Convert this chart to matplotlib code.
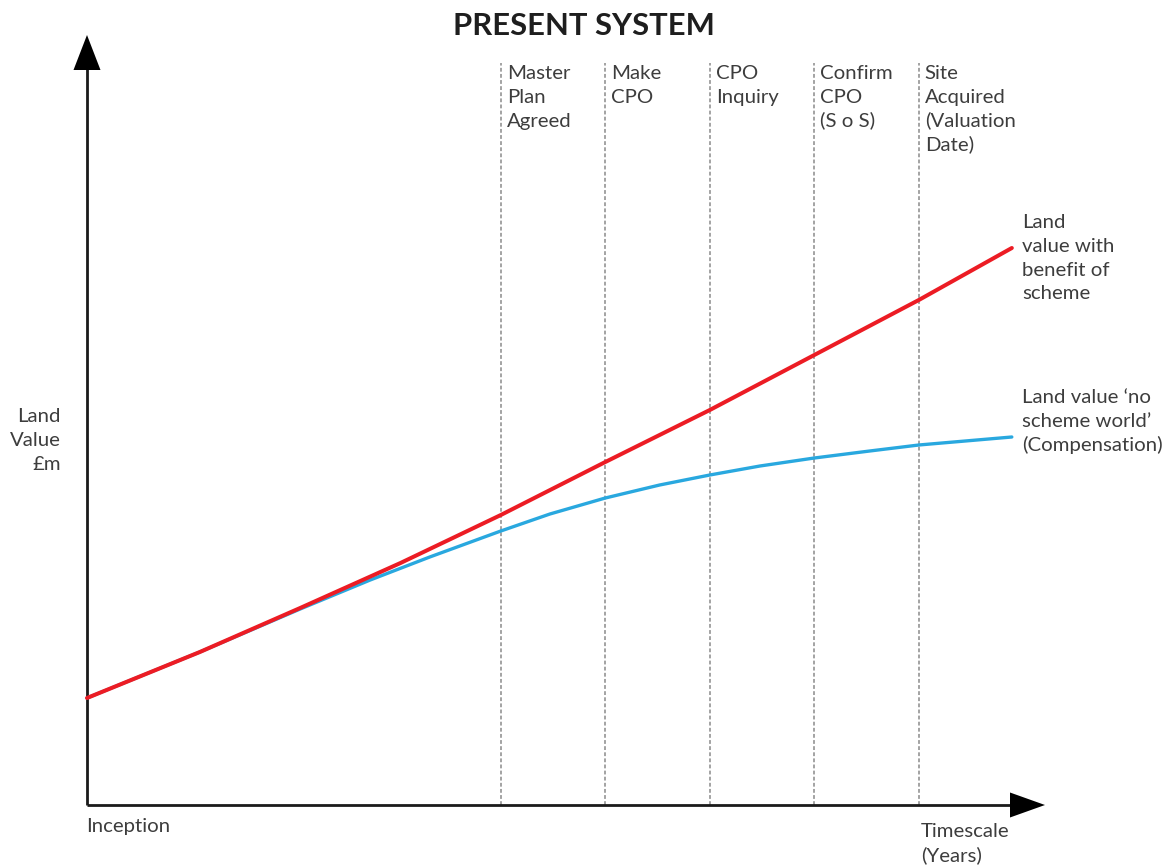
import matplotlib
matplotlib.use("Agg")
import matplotlib.pyplot as plt
from matplotlib.patches import Polygon

plt.rcParams['font.family'] = ['Lato', 'DejaVu Sans']

W, H, DPI = 1176, 868, 100

# Timeline positions (years from inception, arbitrary scale)
milestone_x = [3.96, 4.96, 5.96, 6.96, 7.96]
milestone_labels = [
    ["Master", "Plan", "Agreed"],
    ["Make", "CPO"],
    ["CPO", "Inquiry"],
    ["Confirm", "CPO", "(S o S)"],
    ["Site", "Acquired", "(Valuation", "Date)"],
]

# Land value with benefit of scheme
scheme_x = [0.0, 1.08, 2.04, 3.00, 3.96, 4.96, 5.96, 6.96, 7.96, 8.85]
scheme_y = [1.07, 1.53, 1.97, 2.42, 2.90, 3.43, 3.95, 4.50, 5.05, 5.57]

# Land value in the 'no scheme world'
noscheme_x = [0.0, 1.08, 2.04, 2.71, 3.28, 3.96, 4.43, 4.96, 5.48, 5.96,
              6.44, 6.96, 7.49, 7.96, 8.85]
noscheme_y = [1.07, 1.53, 1.96, 2.25, 2.48, 2.74, 2.91, 3.07, 3.20, 3.30,
              3.39, 3.47, 3.54, 3.60, 3.68]

scheme_label = ["Land", "value with", "benefit of", "scheme"]
noscheme_label = ["Land value \u2018no", "scheme world\u2019", "(Compensation)"]
y_label = ["Land", "Value", "\u00a3m"]
x_label = ["Timescale", "(Years)"]

TEXT = "#3d3d3d"
RED = "#ec1c24"
BLUE = "#29a8df"

fig = plt.figure(figsize=(W / DPI, H / DPI), dpi=DPI)
ax = fig.add_axes([0, 0, 1, 1])
ax.set_axis_off()

# origin of the chart sits at pixel (87, 805); 104.5 px per year, 100 px per £m unit
x0px, y0px, sx, sy = 87, 805, 104.5, 100.0
ax.set_xlim(-x0px / sx, (W - x0px) / sx)
ax.set_ylim(-(H - y0px) / sy, y0px / sy)


def fx(px):
    return px / W


def fy(py):
    return 1 - py / H


def dx(px):
    return (px - x0px) / sx


def dy(py):
    return (y0px - py) / sy


# milestone dashed lines
for mx in milestone_x:
    ax.plot([mx, mx], [0, dy(63)], color="#8a8a8a", lw=1.1,
            dashes=(2.5, 1.5), zorder=1)

# axes with arrow heads
ax.plot([0, 0], [0, dy(68)], color="#1a1a1a", lw=2.0, zorder=3,
        solid_capstyle="butt")
ax.plot([0, dx(1012)], [0, 0], color="#1a1a1a", lw=2.0, zorder=3,
        solid_capstyle="butt")
ax.add_patch(Polygon([(dx(73.5), dy(70)), (dx(100.5), dy(70)), (0, dy(35))],
                     closed=True, color="black", zorder=4, lw=0))
ax.add_patch(Polygon([(dx(1010), dy(792.5)), (dx(1010), dy(817.5)),
                      (dx(1045), 0)],
                     closed=True, color="black", zorder=4, lw=0))

# value lines
ax.plot(noscheme_x, noscheme_y, color=BLUE, lw=2.4, zorder=5,
        solid_joinstyle="round", solid_capstyle="round")
ax.plot(scheme_x, scheme_y, color=RED, lw=2.9, zorder=6,
        solid_joinstyle="round", solid_capstyle="round")

# title
fig.text(fx(584), fy(35), "PRESENT SYSTEM", fontsize=22.3, fontweight="bold",
         color="#1e1e1e", ha="center", va="baseline")

LS = 23.8  # line spacing in pixels
FS = 14.7


def block(x, y_base, lines, ha="left", fs=FS):
    for i, s in enumerate(lines):
        fig.text(fx(x), fy(y_base + i * LS), s, fontsize=fs, color=TEXT,
                 ha=ha, va="baseline")


for mx, lab in zip(milestone_x, milestone_labels):
    block(x0px + mx * sx + 6, 79, lab)

block(1022, 228, scheme_label)
block(1022, 403, noscheme_label)
block(61, 422, y_label, ha="right")
block(86, 832, ["Inception"])
block(921, 837, x_label)

fig.savefig("out.png", dpi=DPI)
